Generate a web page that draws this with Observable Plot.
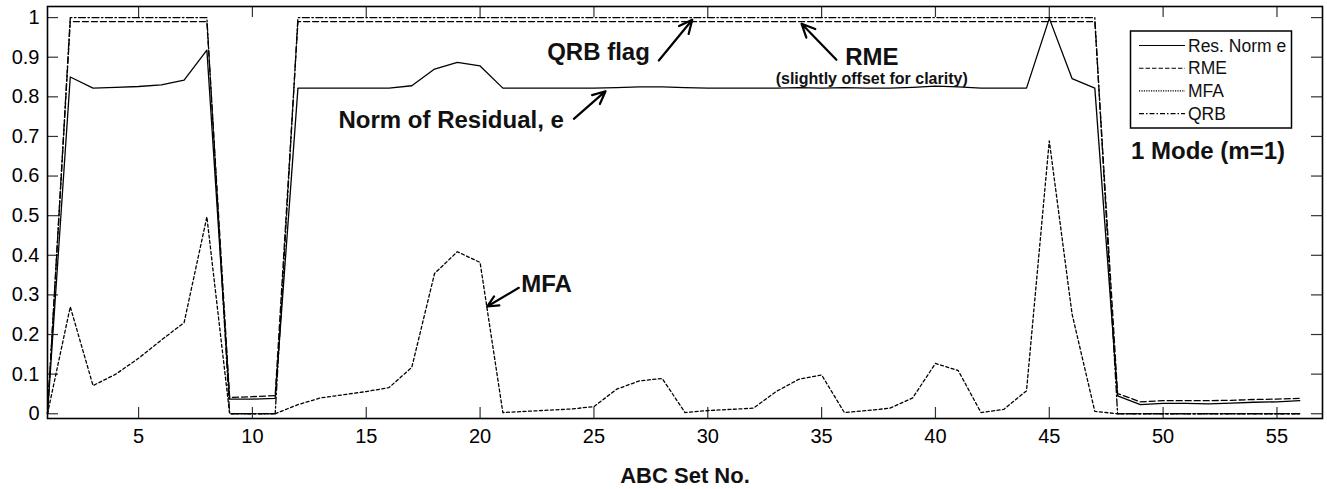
<!DOCTYPE html>
<html>
<head>
<meta charset="utf-8">
<script src="https://cdn.jsdelivr.net/npm/d3@7"></script>
<script src="https://cdn.jsdelivr.net/npm/@observablehq/plot@0.6"></script>
<style>
  html, body { margin: 0; padding: 0; background: white; }
  svg { display: block; }
</style>
</head>
<body>
<div id="chart"></div>
<script>
// ---- data ----
const setNo = d3.range(1, 57);
const resNorm = [0.0, 0.850, 0.822, 0.824, 0.826, 0.830, 0.842, 0.918, 0.037, 0.037,
  0.039, 0.822, 0.822, 0.822, 0.822, 0.822, 0.828, 0.870, 0.887, 0.878,
  0.822, 0.822, 0.822, 0.822, 0.822, 0.823, 0.825, 0.825, 0.823, 0.822,
  0.822, 0.822, 0.822, 0.823, 0.822, 0.823, 0.822, 0.822, 0.824, 0.827,
  0.825, 0.822, 0.822, 0.822, 0.998, 0.846, 0.822, 0.045, 0.023, 0.026,
  0.026, 0.025, 0.027, 0.029, 0.030, 0.033];
const rme = [0.0, 0.99, 0.99, 0.99, 0.99, 0.99, 0.99, 0.99, 0.041, 0.043,
  0.046, 0.99, 0.99, 0.99, 0.99, 0.99, 0.99, 0.99, 0.99, 0.99,
  0.99, 0.99, 0.99, 0.99, 0.99, 0.99, 0.99, 0.99, 0.99, 0.99,
  0.99, 0.99, 0.99, 0.99, 0.99, 0.99, 0.99, 0.99, 0.99, 0.99,
  0.99, 0.99, 0.99, 0.99, 0.99, 0.99, 0.99, 0.051, 0.030, 0.033,
  0.033, 0.033, 0.034, 0.036, 0.037, 0.039];
const mfa = [0.0, 0.270, 0.071, 0.100, 0.140, 0.186, 0.230, 0.497, 0.0, 0.0,
  0.0, 0.023, 0.040, 0.048, 0.056, 0.066, 0.117, 0.354, 0.409, 0.382,
  0.003, 0.006, 0.009, 0.012, 0.018, 0.062, 0.083, 0.089, 0.003, 0.008,
  0.011, 0.014, 0.056, 0.087, 0.098, 0.003, 0.008, 0.014, 0.040, 0.127,
  0.109, 0.003, 0.011, 0.058, 0.689, 0.252, 0.006, 0.0, 0.0, 0.0,
  0.0, 0.0, 0.0, 0.0, 0.0, 0.0];
const qrb = [0, 1, 1, 1, 1, 1, 1, 1, 0, 0,
  0, 1, 1, 1, 1, 1, 1, 1, 1, 1,
  1, 1, 1, 1, 1, 1, 1, 1, 1, 1,
  1, 1, 1, 1, 1, 1, 1, 1, 1, 1,
  1, 1, 1, 1, 1, 1, 1, 0, 0, 0,
  0, 0, 0, 0, 0, 0];

const xTicks = [5, 10, 15, 20, 25, 30, 35, 40, 45, 50, 55];
const xTickLabels = ["5", "10", "15", "20", "25", "30", "35", "40", "45", "50", "55"];
const yTicks = [0, 0.1, 0.2, 0.3, 0.4, 0.5, 0.6, 0.7, 0.8, 0.9, 1];
const yTickLabels = ["0", "0.1", "0.2", "0.3", "0.4", "0.5", "0.6", "0.7", "0.8", "0.9", "1"];

const seriesNames = ["Res. Norm e", "RME", "MFA", "QRB"];
const xLabel = "ABC Set No.";

// annotations (data coordinates)
const notes = [
  {text: "QRB flag", x: 25.2, y: 0.8935, size: 24},
  {text: "Norm of Residual, e", x: 18.73, y: 0.7208, size: 24},
  {text: "RME", x: 37.21, y: 0.8795, size: 24},
  {text: "(slightly offset for clarity)", x: 37.2, y: 0.8335, size: 16},
  {text: "MFA", x: 22.92, y: 0.3068, size: 24},
  {text: "1 Mode (m=1)", x: 51.97, y: 0.6436, size: 24}
];
const arrows = [
  {x1: 27.85, y1: 0.8917, x2: 29.32, y2: 0.9945},
  {x1: 24.12, y1: 0.7445, x2: 25.51, y2: 0.8142},
  {x1: 35.65, y1: 0.8935, x2: 34.12, y2: 0.9844},
  {x1: 21.70, y1: 0.3179, x2: 20.31, y2: 0.2707}
];

// ---- build ----
const W = 1327, H = 489, mL = 47, mR = 5, mT = 6, mB = 71;
const fw = W - mL - mR, fh = H - mT - mB, tickLen = 11;
const dashes = [null, "6,3", "3,2.5", "7,2.5,1.5,2.5"];
const legendDashes = [null, "4.5,2", "1.2,1.2", "5,2,1.5,2"];
const allSeries = [resNorm, rme, mfa, qrb];
const rows = allSeries.map(vals => setNo.map((x, i) => ({x, v: vals[i]})));
const xLab = new Map(xTicks.map((t, i) => [t, xTickLabels[i]]));
const yLab = new Map(yTicks.map((t, i) => [t, yTickLabels[i]]));

const chart = Plot.plot({
  width: W, height: H,
  marginLeft: mL, marginRight: mR, marginTop: mT, marginBottom: mB,
  x: {domain: [1, 57]},
  y: {domain: [-0.012, 1.028]},
  style: {fontFamily: "'Liberation Sans', Arial, Helvetica, sans-serif", fontSize: "20px", background: "white", color: "black"},
  marks: [
    // inward ticks on all four sides
    Plot.tickY(yTicks, {y: d => d, insetRight: fw - tickLen, stroke: "#333", strokeWidth: 1.2}),
    Plot.tickY(yTicks, {y: d => d, insetLeft: fw - tickLen, stroke: "#333", strokeWidth: 1.2}),
    Plot.tickX(xTicks, {x: d => d, insetTop: fh - tickLen, stroke: "#333", strokeWidth: 1.2}),
    Plot.tickX(xTicks, {x: d => d, insetBottom: fh - tickLen, stroke: "#333", strokeWidth: 1.2}),
    Plot.axisX(xTicks, {tickSize: 0, tickPadding: 10, tickFormat: d => xLab.get(d), fontSize: 20, label: null}),
    Plot.axisY(yTicks, {tickSize: 0, tickPadding: 8, tickFormat: d => yLab.get(d), fontSize: 20, label: null}),
    ...rows.map((r, k) => Plot.line(r, {x: "x", y: "v", stroke: "black", strokeWidth: 1.3, strokeDasharray: dashes[k]})),
    Plot.arrow(arrows, {x1: "x1", y1: "y1", x2: "x2", y2: "y2", stroke: "black", strokeWidth: 2.2, headLength: 10, headAngle: 50}),
    Plot.text(notes, {x: "x", y: "y", text: "text", fontSize: d => d.size, fontWeight: "bold", lineAnchor: "bottom", textAnchor: "middle", fill: "#111"}),
    Plot.text([xLabel], {frameAnchor: "bottom", dy: 64, text: d => d, fontSize: 22, fontWeight: "bold", lineAnchor: "bottom", fill: "#111"}),
    Plot.frame({stroke: "black", strokeWidth: 1.6})
  ]
});

// legend box (drawn on top of the plot's SVG)
const svg = d3.select(chart);
const lg = svg.append("g")
  .attr("font-family", "'Liberation Sans', Arial, Helvetica, sans-serif")
  .attr("text-anchor", "start");
lg.append("rect").attr("x", 1130.5).attr("y", 31).attr("width", 161).attr("height", 97)
  .attr("fill", "white").attr("stroke", "black").attr("stroke-width", 1.5);
seriesNames.forEach((name, k) => {
  const yy = 45.5 + k * 22.7;
  lg.append("line").attr("x1", 1139).attr("x2", 1185).attr("y1", yy).attr("y2", yy)
    .attr("stroke", "black").attr("stroke-width", 1.1)
    .attr("stroke-dasharray", legendDashes[k]);
  lg.append("text").attr("x", 1188).attr("y", yy).attr("dy", "0.35em")
    .attr("text-anchor", "start")
    .attr("font-size", 17.5).attr("fill", "#111").text(name);
});

document.getElementById("chart").appendChild(chart);
</script>
</body>
</html>
